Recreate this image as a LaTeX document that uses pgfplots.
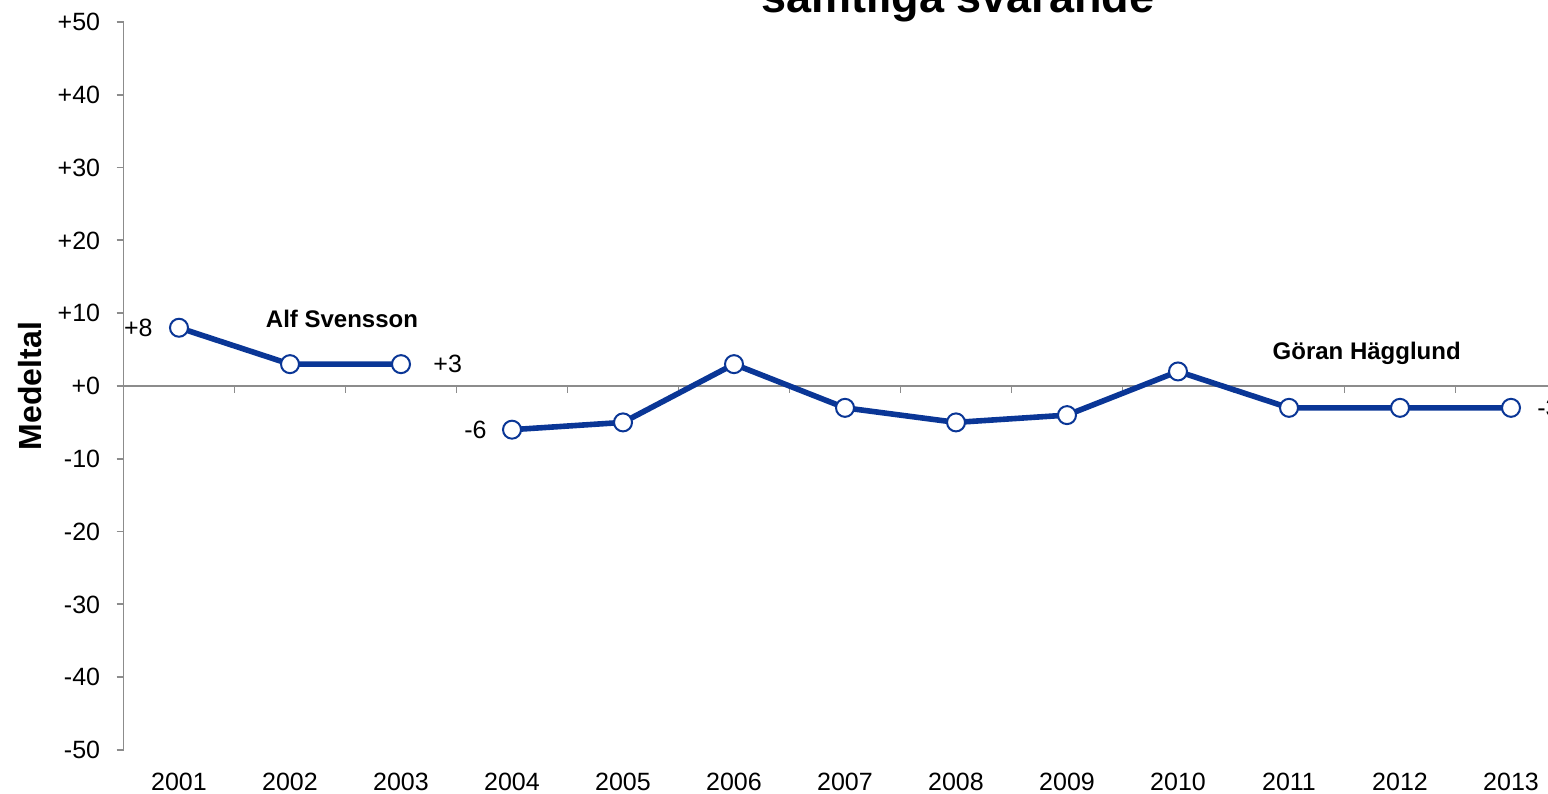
\documentclass[border=0pt]{standalone}
\usepackage{fontspec}
\setmainfont{Liberation Sans}
\usepackage{pgfplots}
\usepackage{pgfplotstable}
\pgfplotsset{compat=1.18}
\definecolor{navy}{RGB}{10,54,150}
\definecolor{axgray}{RGB}{140,140,140}
\pgfplotstableread{
x y
0 8
1 3
2 3
}\alfdata
\pgfplotstableread{
x y
3 -6
4 -5
5 3
6 -3
7 -5
8 -4
9 2
10 -3
11 -3
12 -3
}\gorandata
\begin{document}
\begin{tikzpicture}
\path[use as bounding box] (0,0) rectangle (774pt,396.5pt);
\clip (0,0) rectangle (774pt,396.5pt);
\node[font=\bfseries\fontsize{22.5}{26}\selectfont, anchor=base] at (479pt,390pt) {samtliga svarande};
\begin{axis}[
  at={(61.75pt,21.5pt)}, anchor=south west, scale only axis,
  width=721.5pt, height=364pt,
  xmin=-0.5, xmax=12.5, ymin=-50, ymax=50,
  axis x line=middle, axis y line=left,
  axis line style={axgray, line width=0.9pt, -},
  xtick={0.5,1.5,2.5,3.5,4.5,5.5,6.5,7.5,8.5,9.5,10.5,11.5}, xticklabels={},
  ytick={-50,-40,-30,-20,-10,0,10,20,30,40,50},
  yticklabels={-50,-40,-30,-20,-10,+0,+10,+20,+30,+40,+50},
  hide obscured y ticks=false, hide obscured x ticks=false,
  tick align=outside, major tick length=3.5pt,
  tick style={axgray, line width=0.9pt},
  yticklabel style={font=\fontsize{12.5}{15}\selectfont, anchor=east, inner sep=0pt, xshift=-8pt},
  /pgf/number format/assume math mode=true,
  ylabel={Medeltal},
  every axis y label/.style={at={(axis description cs:-0.0565,0.5)}, rotate=90, anchor=base, font=\bfseries\fontsize{16}{19}\selectfont},
  clip=false,
]
\addplot[navy, line width=2.8pt, mark=*, mark size=4.5pt, mark options={fill=white, draw=navy, line width=1pt}] table[x=x,y=y] {\alfdata};
\addplot[navy, line width=2.8pt, mark=*, mark size=4.5pt, mark options={fill=white, draw=navy, line width=1pt}] table[x=x,y=y] {\gorandata};
\node[anchor=east, inner sep=0pt, xshift=-13pt, font=\fontsize{12.5}{15}\selectfont] at (axis cs:0,8) {+8};
\node[anchor=west, inner sep=0pt, xshift=16pt, font=\fontsize{12.5}{15}\selectfont] at (axis cs:2,3) {+3};
\node[anchor=east, inner sep=0pt, xshift=-12.5pt, font=\fontsize{12.5}{15}\selectfont] at (axis cs:3,-6) {-6};
\node[anchor=west, inner sep=0pt, xshift=13pt, font=\fontsize{12.5}{15}\selectfont] at (axis cs:12,-3) {-3};
\node[anchor=base, font=\bfseries\fontsize{12}{14}\selectfont] at (axis cs:1.468,8.1) {Alf Svensson};
\node[anchor=base, font=\bfseries\fontsize{12}{14}\selectfont] at (axis cs:10.70,3.7) {Göran Hägglund};
\end{axis}
\begin{axis}[
  at={(61.75pt,21.5pt)}, anchor=south west, scale only axis,
  width=721.5pt, height=364pt,
  xmin=-0.5, xmax=12.5, ymin=-50, ymax=50,
  hide y axis, axis x line=bottom,
  x axis line style={draw=none},
  xtick={0,1,2,3,4,5,6,7,8,9,10,11,12},
  xticklabels={2001,2002,2003,2004,2005,2006,2007,2008,2009,2010,2011,2012,2013},
  major tick length=0pt,
  xticklabel style={font=\fontsize{12.5}{15}\selectfont, anchor=base, inner sep=0pt, yshift=-20pt},
]
\end{axis}
\end{tikzpicture}
\end{document}
